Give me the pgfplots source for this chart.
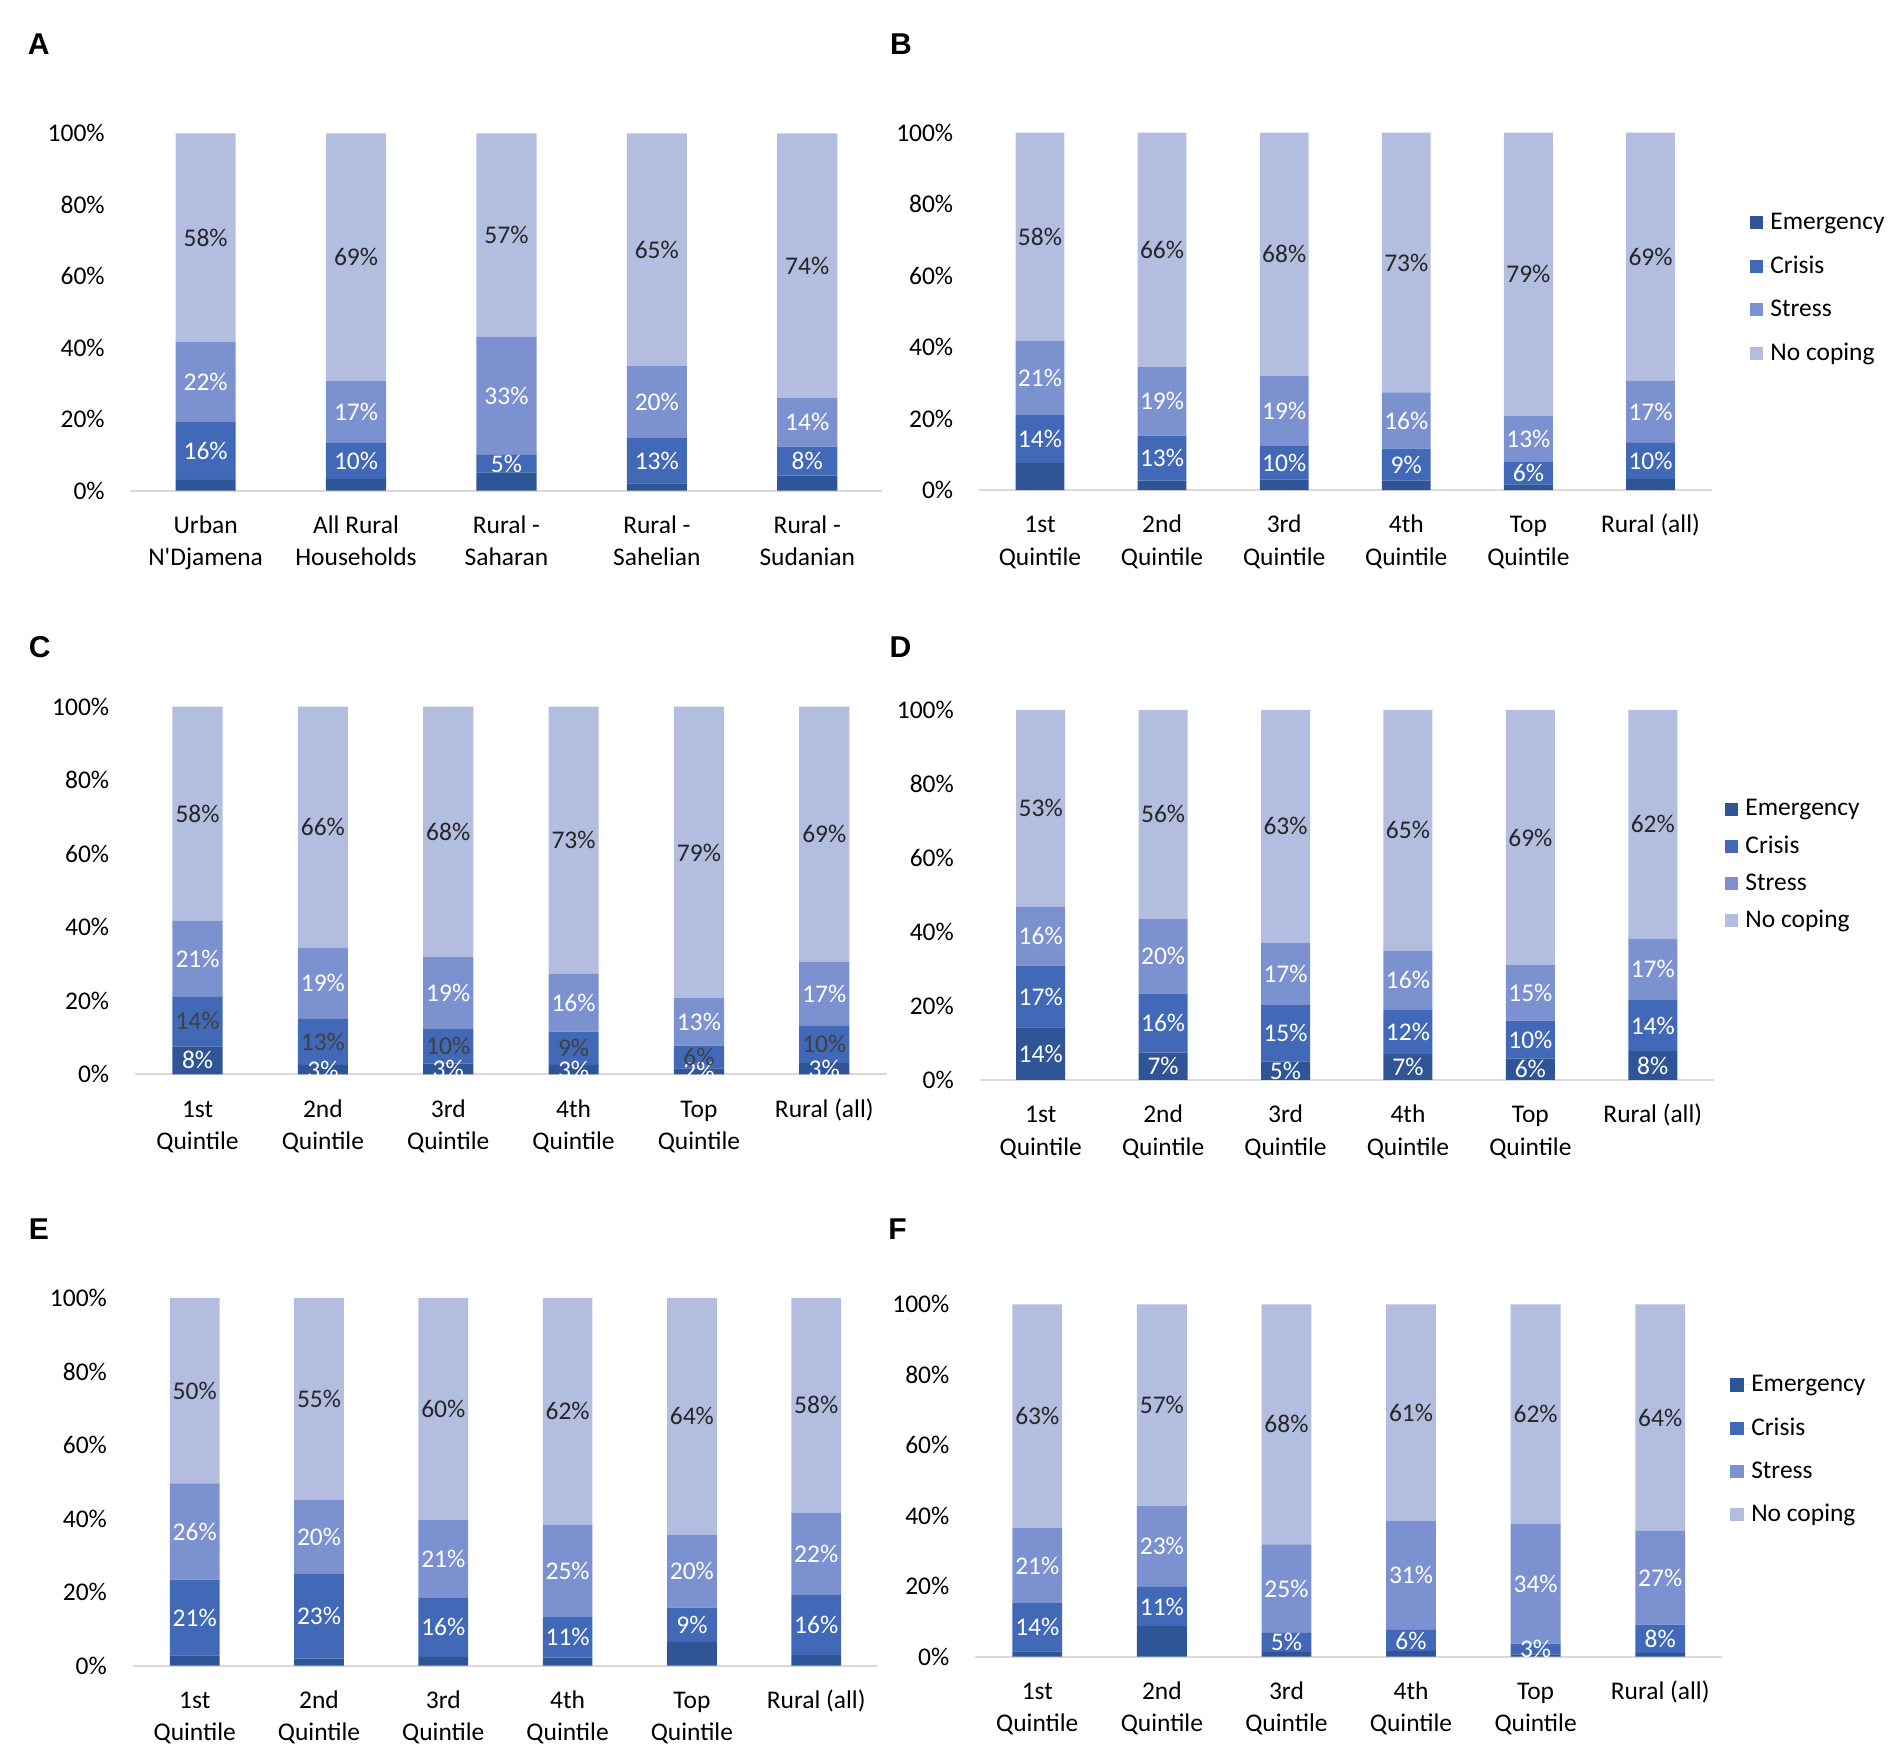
\documentclass[border=0pt]{standalone}
\usepackage{fontspec}
\setmainfont{Carlito}
\newfontfamily\letterfont{Liberation Sans}
\usepackage{pgfplots}
\usepackage{pgfplotstable}
\pgfplotsset{compat=1.18}
\definecolor{cE}{HTML}{2F5597}
\definecolor{cC}{HTML}{4169B8}
\definecolor{cS}{HTML}{7B91D0}
\definecolor{cN}{HTML}{B3BDE0}
\definecolor{txtdark}{HTML}{262626}
\definecolor{txtgray}{HTML}{404040}
\definecolor{axgray}{HTML}{D9D9D9}

% columns: x, Emergency (e), Crisis (c), Stress (s), No coping (n), in percent
\pgfplotstableread{
x e c s n
0 3.0 16.2 22.4 58.4
1 3.3 10.1 17.4 69.2
2 5.1 4.9 33.1 56.9
3 2.0 12.7 20.3 65.0
4 4.2 8.1 13.6 74.1
}\dataA
\pgfplotstableread{
x e c s n
0 7.6 13.6 20.6 58.2
1 2.6 12.6 19.2 65.6
2 2.9 9.6 19.4 68.1
3 2.6 9.0 15.7 72.7
4 1.6 6.2 12.9 79.3
5 3.1 10.1 17.4 69.4
}\dataB
\pgfplotstableread{
x e c s n
0 14.2 16.7 15.9 53.2
1 7.4 15.9 20.3 56.4
2 5.0 15.2 16.9 62.9
3 7.0 12.1 15.8 65.1
4 5.8 10.2 15.0 69.0
5 7.8 13.8 16.6 61.8
}\dataD
\pgfplotstableread{
x e c s n
0 2.8 20.6 26.2 50.4
1 1.9 23.0 20.1 55.0
2 2.4 16.2 21.0 60.4
3 2.2 11.0 25.1 61.7
4 6.5 9.3 19.8 64.4
5 2.9 16.3 22.4 58.4
}\dataE
\pgfplotstableread{
x e c s n
0 1.5 13.7 21.4 63.4
1 8.7 11.1 23.1 57.1
2 1.4 5.4 25.1 68.1
3 1.6 6.0 31.0 61.4
4 0.7 3.0 34.0 62.3
5 1.1 8.0 26.6 64.3
}\dataF

% mid-heights of each stacked segment (where its label sits)
\newcommand\addmids[1]{%
  \pgfplotstablecreatecol[create col/expr={\thisrow{e}/2}]{em}{#1}%
  \pgfplotstablecreatecol[create col/expr={\thisrow{e}+\thisrow{c}/2}]{cm}{#1}%
  \pgfplotstablecreatecol[create col/expr={\thisrow{e}+\thisrow{c}+\thisrow{s}/2}]{sm}{#1}%
  \pgfplotstablecreatecol[create col/expr={\thisrow{e}+\thisrow{c}+\thisrow{s}+\thisrow{n}/2}]{nm}{#1}%
}
\addmids\dataA
\addmids\dataB
\addmids\dataD
\addmids\dataE
\addmids\dataF

\pgfplotsset{
  panel/.style={
    scale only axis, anchor=south west,
    ybar stacked, bar width=0.4,
    ymin=0, ymax=100, xmin=-0.5, enlargelimits=false,
    ytick={0,20,40,60,80,100},
    yticklabels={0\%,20\%,40\%,60\%,80\%,100\%},
    axis lines*=left,
    y axis line style={draw=none},
    x axis line style={draw=axgray, line width=0.8pt},
    major tick length=0pt,
    tick style={draw=none},
    xticklabel style={align=center, anchor=north, inner sep=0pt, yshift=-8.2pt,
      font=\fontsize{10.5}{13.3}\selectfont, text=black},
    yticklabel style={anchor=east, inner sep=0pt, xshift=-10.4pt,
      font=\fontsize{10.5}{13}\selectfont, text=black},
  },
  lblaxis/.style={scale only axis, anchor=south west, hide axis,
    ymin=0, ymax=100, xmin=-0.5, enlargelimits=false},
  lb/.style={draw=none, mark=none, point meta=explicit,
    nodes near coords={\pgfmathprintnumber[fixed,precision=0,assume math mode=true]{\pgfplotspointmeta}\%},
    every node near coord/.append style={text=#1, anchor=center, inner sep=0pt,
      font=\fontsize{10.5}{13}\selectfont}},
  leg/.style n args={3}{
    legend style={at={(#1,#2)}, anchor=north west, draw=none, fill=none,
      inner sep=0pt, outer sep=0pt, row sep=0pt, column sep=0pt,
      font=\fontsize{10.5}{13}\selectfont,
      nodes={inner sep=0pt, minimum height=#3}},
    legend cell align=left,
    legend image code/.code={\path (0pt,0pt) -- (8.6pt,0pt);
      \fill[##1] (0pt,-2.7pt) rectangle (5.6pt,2.7pt);},
  },
  qlabels/.style={xtick={0,1,2,3,4,5},
    xticklabels={{\strut 1st\\Quintile},{\strut 2nd\\Quintile},{\strut 3rd\\Quintile},{\strut 4th\\Quintile},{\strut Top\\Quintile},{\strut Rural (all)}}},
}

\begin{document}
\begin{tikzpicture}[font=\fontsize{10.5}{13}\selectfont]
\path[use as bounding box] (0,0) rectangle (784pt,724.25pt);

\tikzset{letter/.style={anchor=base west, inner sep=0pt, font=\letterfont\bfseries\fontsize{12.4}{14}\selectfont}}
\node[letter] at (11.25pt,701.6pt) {A};
\node[letter] at (366.75pt,701.6pt) {B};
\node[letter] at (11.75pt,453.3pt) {C};
\node[letter] at (366.5pt,453.3pt) {D};
\node[letter] at (11.75pt,213.3pt) {E};
\node[letter] at (366pt,213.3pt) {F};

% ---------------- A
\begin{axis}[panel, at={(53.75pt,522pt)}, width=310pt, height=147.25pt, xmax=4.5,
  xtick={0,1,2,3,4},
  xticklabels={{\strut Urban\\N\textquotesingle Djamena},{\strut All Rural\\Households},{\strut Rural -\\Saharan},{\strut Rural -\\Sahelian},{\strut Rural -\\Sudanian}}]
\addplot[fill=cE, draw=none] table[x=x,y=e]{\dataA};
\addplot[fill=cC, draw=none] table[x=x,y=c]{\dataA};
\addplot[fill=cS, draw=none] table[x=x,y=s]{\dataA};
\addplot[fill=cN, draw=none] table[x=x,y=n]{\dataA};
\end{axis}
\begin{axis}[lblaxis, at={(53.75pt,522pt)}, width=310pt, height=147.25pt, xmax=4.5]
\addplot[lb=white] table[x=x,y=cm,meta=c]{\dataA};
\addplot[lb=white] table[x=x,y=sm,meta=s]{\dataA};
\addplot[lb=txtdark] table[x=x,y=nm,meta=n]{\dataA};
\end{axis}

% ---------------- B
\begin{axis}[panel, at={(403.5pt,522.25pt)}, width=302pt, height=147.3pt, xmax=5.5,
  qlabels, leg={1.0518}{0.809}{17.95pt}]
\addplot[fill=cE, draw=none] table[x=x,y=e]{\dataB};
\addplot[fill=cC, draw=none] table[x=x,y=c]{\dataB};
\addplot[fill=cS, draw=none] table[x=x,y=s]{\dataB};
\addplot[fill=cN, draw=none] table[x=x,y=n]{\dataB};
\legend{Emergency,Crisis,Stress,No coping}
\end{axis}
\begin{axis}[lblaxis, at={(403.5pt,522.25pt)}, width=302pt, height=147.3pt, xmax=5.5]
\addplot[lb=white] table[x=x,y=cm,meta=c]{\dataB};
\addplot[lb=white] table[x=x,y=sm,meta=s]{\dataB};
\addplot[lb=txtdark] table[x=x,y=nm,meta=n]{\dataB};
\end{axis}

% ---------------- C
\begin{axis}[panel, at={(55.6pt,281.4pt)}, width=310pt, height=151.55pt, xmax=5.5, qlabels]
\addplot[fill=cE, draw=none] table[x=x,y=e]{\dataB};
\addplot[fill=cC, draw=none] table[x=x,y=c]{\dataB};
\addplot[fill=cS, draw=none] table[x=x,y=s]{\dataB};
\addplot[fill=cN, draw=none] table[x=x,y=n]{\dataB};
\end{axis}
\begin{axis}[lblaxis, at={(55.6pt,281.4pt)}, width=310pt, height=151.55pt, xmax=5.5]
\addplot[lb=white] table[x=x,y=em,meta=e]{\dataB};
\addplot[lb=txtgray] table[x=x,y=cm,meta=c]{\dataB};
\addplot[lb=white] table[x=x,y=sm,meta=s]{\dataB};
\addplot[lb=txtdark] table[x=x,y=nm,meta=n]{\dataB};
\end{axis}

% ---------------- D
\begin{axis}[panel, at={(403.75pt,279.1pt)}, width=302.75pt, height=152.5pt, xmax=5.5,
  qlabels, leg={1.0144}{0.7816}{15.3pt}]
\addplot[fill=cE, draw=none] table[x=x,y=e]{\dataD};
\addplot[fill=cC, draw=none] table[x=x,y=c]{\dataD};
\addplot[fill=cS, draw=none] table[x=x,y=s]{\dataD};
\addplot[fill=cN, draw=none] table[x=x,y=n]{\dataD};
\legend{Emergency,Crisis,Stress,No coping}
\end{axis}
\begin{axis}[lblaxis, at={(403.75pt,279.1pt)}, width=302.75pt, height=152.5pt, xmax=5.5]
\addplot[lb=white] table[x=x,y=em,meta=e]{\dataD};
\addplot[lb=white] table[x=x,y=cm,meta=c]{\dataD};
\addplot[lb=white] table[x=x,y=sm,meta=s]{\dataD};
\addplot[lb=txtdark] table[x=x,y=nm,meta=n]{\dataD};
\end{axis}

% ---------------- E
\begin{axis}[panel, at={(54.65pt,37.65pt)}, width=307.4pt, height=151.6pt, xmax=5.5, qlabels]
\addplot[fill=cE, draw=none] table[x=x,y=e]{\dataE};
\addplot[fill=cC, draw=none] table[x=x,y=c]{\dataE};
\addplot[fill=cS, draw=none] table[x=x,y=s]{\dataE};
\addplot[fill=cN, draw=none] table[x=x,y=n]{\dataE};
\end{axis}
\begin{axis}[lblaxis, at={(54.65pt,37.65pt)}, width=307.4pt, height=151.6pt, xmax=5.5]
\addplot[lb=white] table[x=x,y=cm,meta=c]{\dataE};
\addplot[lb=white] table[x=x,y=sm,meta=s]{\dataE};
\addplot[lb=txtdark] table[x=x,y=nm,meta=n]{\dataE};
\end{axis}

% ---------------- F
\begin{axis}[panel, at={(401.9pt,41.35pt)}, width=308.1pt, height=145.25pt, xmax=5.5,
  qlabels, leg={1.0106}{0.8326}{17.85pt}]
\addplot[fill=cE, draw=none] table[x=x,y=e]{\dataF};
\addplot[fill=cC, draw=none] table[x=x,y=c]{\dataF};
\addplot[fill=cS, draw=none] table[x=x,y=s]{\dataF};
\addplot[fill=cN, draw=none] table[x=x,y=n]{\dataF};
\legend{Emergency,Crisis,Stress,No coping}
\end{axis}
\begin{axis}[lblaxis, at={(401.9pt,41.35pt)}, width=308.1pt, height=145.25pt, xmax=5.5]
\addplot[lb=white] table[x=x,y=cm,meta=c]{\dataF};
\addplot[lb=white] table[x=x,y=sm,meta=s]{\dataF};
\addplot[lb=txtdark] table[x=x,y=nm,meta=n]{\dataF};
\end{axis}
\end{tikzpicture}
\end{document}
